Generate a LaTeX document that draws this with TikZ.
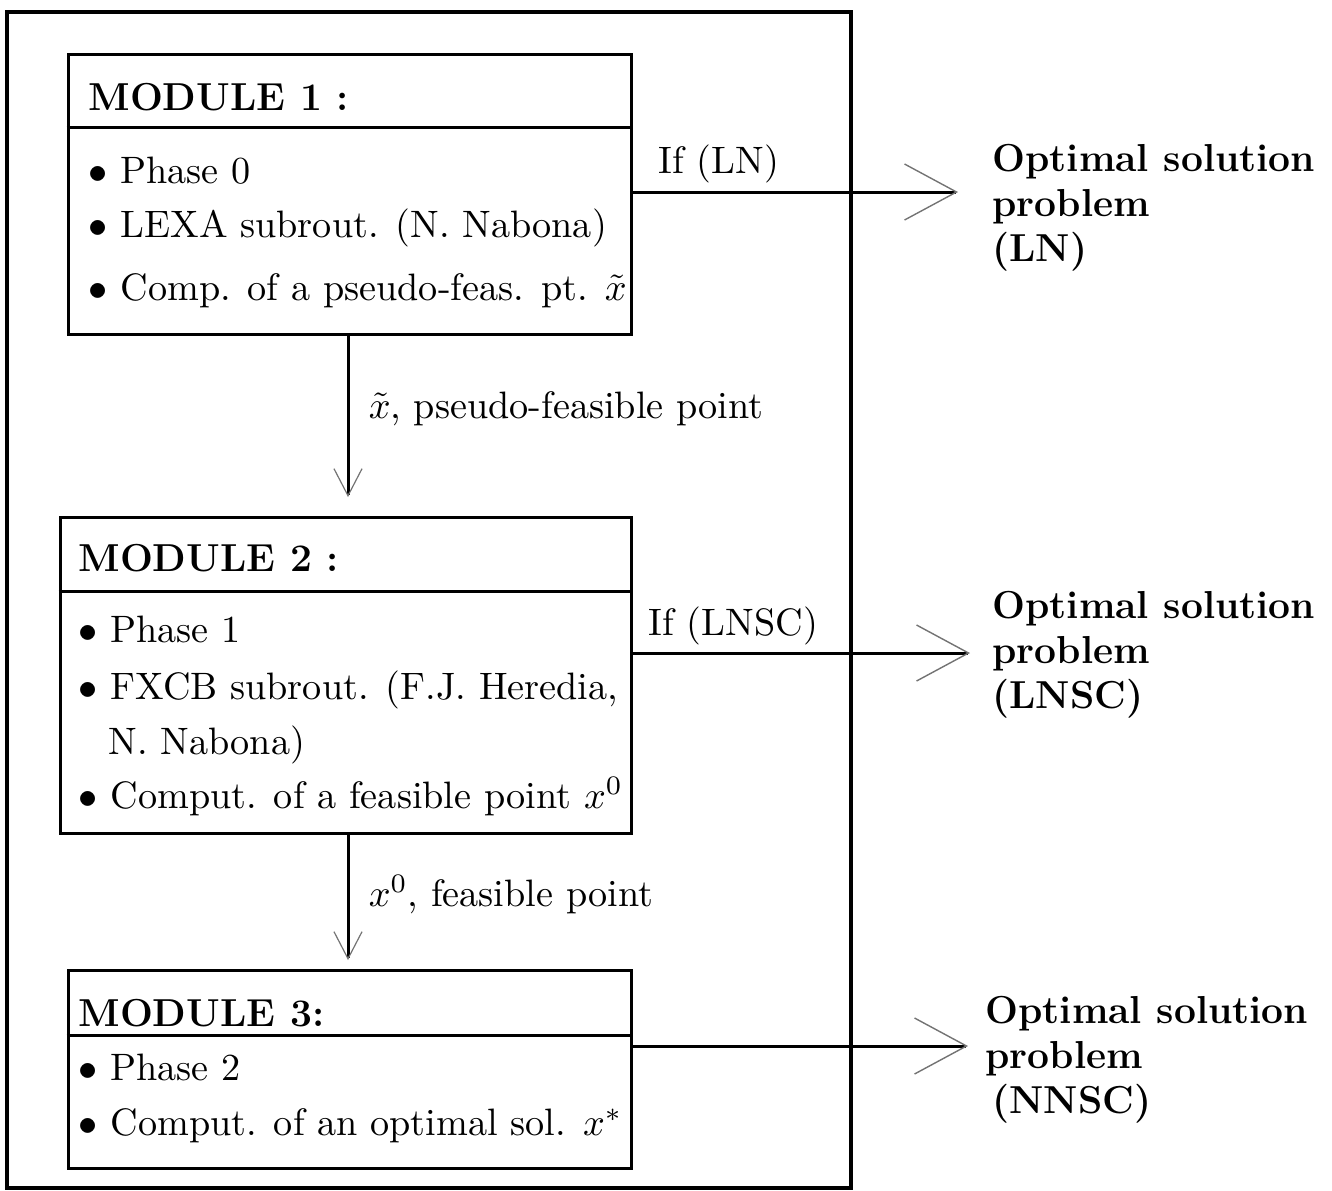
\documentclass[tikz,border=0pt]{standalone}
\usetikzlibrary{arrows.meta}
\begin{document}
\begin{tikzpicture}[x=0.5pt,y=-0.5pt,
  frame/.style={draw,line width=2pt},
  modbox/.style={draw,line width=1.5pt,inner sep=0pt},
  rule/.style={line width=1.5pt},
  txt/.style={anchor=base west,inner sep=0pt,scale=1.91,font=\fontsize{10}{12}\selectfont},
  head/.style={anchor=base west,inner sep=0pt,font=\fontsize{19.5}{23}\selectfont\bfseries},
  flow/.style={line width=1.5pt},
  downtip/.style={-{Straight Barb[length=13.5pt,width=14pt,line width=0.6pt,color=black!55]}},
  sidetip/.style={-{Straight Barb[length=26pt,width=28pt,line width=0.7pt,color=black!55]}}]
\useasboundingbox (0,0) rectangle (1332,1190);

% outer frame
\draw[frame] (7,12) rectangle (851,1188);

% module boxes
\node[modbox,minimum width=281.5pt,minimum height=140pt] (m1) at (349.5,194) {};
\node[modbox,minimum width=285.5pt,minimum height=158pt] (m2) at (345.5,675) {};
\node[modbox,minimum width=281.5pt,minimum height=99pt] (m3) at (349.5,1069) {};

% header rules
\draw[rule] (m1.west |- 0,127) -- (m1.east |- 0,127);
\draw[rule] (m2.west |- 0,591) -- (m2.east |- 0,591);
\draw[rule] (m3.west |- 0,1035) -- (m3.east |- 0,1035);

% module 1
\node[head] (h1) at (88,110) {MODULE 1 :};
\node[txt] (a1) at (88,183) {$\bullet$ Phase 0};
\node[txt] (a2) at (88,237) {$\bullet$ LEXA subrout. (N. Nabona)};
\node[txt] (a3) at (88,300) {$\bullet$ Comp. of a pseudo-feas. pt. $\tilde{x}$};

% module 2
\node[head] (h2) at (78,571) {MODULE 2 :};
\node[txt] (b1) at (78,642) {$\bullet$ Phase 1};
\node[txt] (b2) at (78,699) {$\bullet$ FXCB subrout. (F.J. Heredia,};
\node[txt] (b3) at (108,754) {N. Nabona)};
\node[txt] (b4) at (78,808) {$\bullet$ Comput. of a feasible point $x^0$};

% module 3
\node[head] (h3) at (78,1026) {MODULE 3:};
\node[txt] (c1) at (78,1080) {$\bullet$ Phase 2};
\node[txt] (c2) at (78,1135) {$\bullet$ Comput. of an optimal sol. $x^*$};

% vertical flow between modules
\coordinate (d1) at (348,497);
\coordinate (d2) at (348,960);
\draw[flow,downtip] (m1.south -| d1) -- (d1);
\draw[flow,downtip] (m2.south -| d2) -- (d2);
\node[txt] (l1) at (368,418) {$\tilde{x}$, pseudo-feasible point};
\node[txt] (l2) at (368,906) {$x^0$, feasible point};

% exits to the results
\coordinate (e1) at (958,192);
\coordinate (e2) at (970,653);
\coordinate (e3) at (968,1046);
\draw[flow,sidetip] (m1.east |- e1) -- (e1);
\draw[flow,sidetip] (m2.east |- e2) -- (e2);
\draw[flow,sidetip] (m3.east |- e3) -- (e3);
\node[txt] (i1) at (658,173) {If (LN)};
\node[txt] (i2) at (648,635) {If (LNSC)};

% results
\node[head] (r1a) at (992,171) {Optimal solution};
\node[head] (r1b) at (992,216) {problem};
\node[head] (r1c) at (992,261) {(LN)};
\node[head] (r2a) at (992,618) {Optimal solution};
\node[head] (r2b) at (992,663) {problem};
\node[head] (r2c) at (992,708) {(LNSC)};
\node[head] (r3a) at (985,1023) {Optimal solution};
\node[head] (r3b) at (985,1068) {problem};
\node[head] (r3c) at (992,1113) {(NNSC)};
\end{tikzpicture}
\end{document}
